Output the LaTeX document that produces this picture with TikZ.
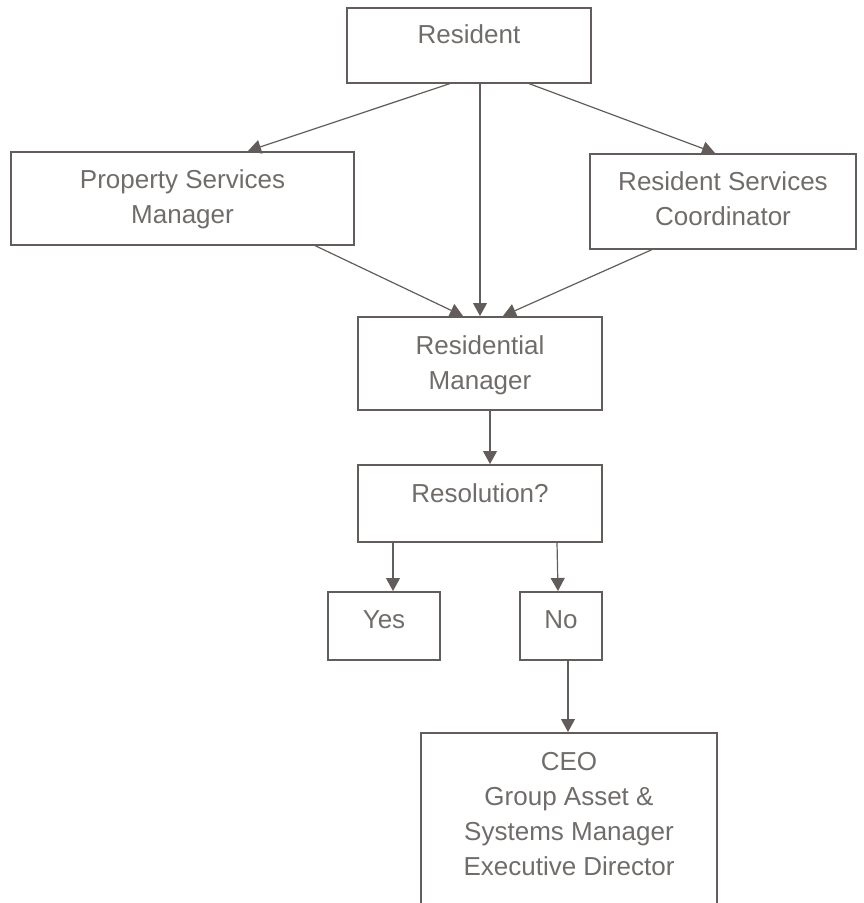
\documentclass[tikz,border=0pt]{standalone}
\usepackage{fontspec}
\setmainfont{Liberation Sans}
\usetikzlibrary{arrows.meta}
\definecolor{linegray}{RGB}{98,93,90}
\definecolor{textgray}{RGB}{112,108,106}

\begin{document}
\begin{tikzpicture}[x=1pt, y=-1pt,
    box/.style={draw=linegray, line width=1.6pt, text=textgray, inner xsep=0pt, inner ysep=0pt,
        anchor=north, align=center, font=\fontsize{26}{35}\selectfont},
    link/.style={draw=linegray, line width=1.2pt, -{Triangle[length=13pt, width=14pt]}}]
    \useasboundingbox (0,0) rectangle (863,903);
    \clip (0,0) rectangle (863,903);

    % First contact
    \node[box, minimum width=244pt, text height=36pt, text depth=39pt] (resident) at (469,7) {Resident};
    \node[box, minimum width=343pt, text height=72pt, text depth=21pt] (psm) at (182.5,151) {Property Services\\Manager};
    \node[box, minimum width=266pt, text height=72pt, text depth=23pt] (rsc) at (723,153) {Resident Services\\Coordinator};

    % Escalation
    \node[box, minimum width=244pt, text height=73pt, text depth=20pt] (rm) at (480,316) {Residential\\Manager};
    \node[box, minimum width=244pt, text height=38pt, text depth=39pt] (resolution) at (480,464) {Resolution?};
    \node[box, minimum width=112pt, text height=37pt, text depth=31pt] (yes) at (384,591) {Yes};
    \node[box, minimum width=82pt, text height=37pt, text depth=31pt] (no) at (561,591) {No};
    \node[box, minimum width=296pt, text height=143pt, text depth=60pt] (ceo) at (569,732) {CEO\\Group Asset \&\\Systems Manager\\Executive Director};

    % Arrows
    \draw[link] ([xshift=-19pt]resident.south) -- ([xshift=65.5pt]psm.north);
    \draw[link] ([xshift=11pt]resident.south) -- (rm.north);
    \draw[link] ([xshift=60pt]resident.south) -- ([xshift=-8pt]rsc.north);
    \draw[link] ([xshift=132.5pt]psm.south) -- ([xshift=-17pt]rm.north);
    \draw[link] ([xshift=-71pt]rsc.south) -- ([xshift=23pt]rm.north);
    \draw[link] ([xshift=10pt]rm.south) -- ([xshift=10pt]resolution.north);
    \draw[link] ([xshift=-87pt]resolution.south) -- ([xshift=9pt]yes.north);
    \draw[link] ([xshift=77pt]resolution.south) -- ([xshift=-3pt]no.north);
    \draw[link] ([xshift=7pt]no.south) -- ([xshift=-1pt]ceo.north);
\end{tikzpicture}
\end{document}
